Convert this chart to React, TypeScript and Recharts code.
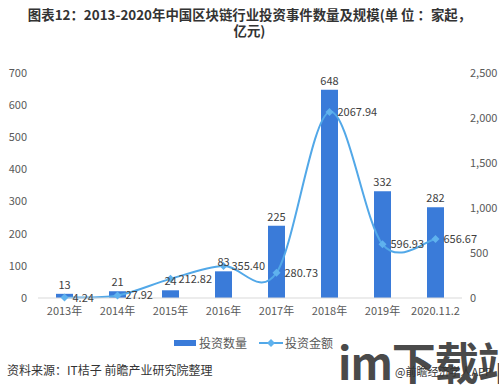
import { ComposedChart, Bar, Line, XAxis, YAxis, LabelList } from "recharts"

const years = ["2013年", "2014年", "2015年", "2016年", "2017年", "2018年", "2019年", "2020.11.2"]
const eventCounts = [13, 21, 24, 83, 225, 648, 332, 282]
const investAmounts = [4.24, 27.92, 212.82, 355.4, 280.73, 2067.94, 596.93, 656.67]
const countTicks = [0, 100, 200, 300, 400, 500, 600, 700]
const amountTicks = [0, 500, 1000, 1500, 2000, 2500]

const data = years.map((year, i) => ({
  year,
  count: eventCounts[i],
  amount: investAmounts[i],
}))

const barColor = "#3a7bd9"
const lineColor = "#52a8e8"
const font = '"Noto Sans CJK SC", "Noto Sans", sans-serif'

// Excel-like smooth line (Catmull-Rom through every point)
const smoothCurve = (context: any) => {
  let pts: [number, number][] = []
  return {
    areaStart() {},
    areaEnd() {},
    lineStart() {
      pts = []
    },
    lineEnd() {
      if (!pts.length) return
      context.moveTo(pts[0][0], pts[0][1])
      for (let i = 0; i < pts.length - 1; i++) {
        const p0 = pts[i - 1] || pts[i]
        const p1 = pts[i]
        const p2 = pts[i + 1]
        const p3 = pts[i + 2] || p2
        context.bezierCurveTo(
          p1[0] + (p2[0] - p0[0]) / 6,
          p1[1] + (p2[1] - p0[1]) / 6,
          p2[0] - (p3[0] - p1[0]) / 6,
          p2[1] - (p3[1] - p1[1]) / 6,
          p2[0],
          p2[1]
        )
      }
    },
    point(x: number, y: number) {
      pts.push([+x, +y])
    },
  }
}

const Diamond = (props: any) => {
  const { cx, cy } = props
  if (cx == null || cy == null) return null
  const r = 4
  return (
    <polygon
      points={`${cx},${cy - r} ${cx + r},${cy} ${cx},${cy + r} ${cx - r},${cy}`}
      fill="#5fb2ee"
      stroke="none"
    />
  )
}

const tickStyle = { fontSize: 11, fill: "#595959" }

export default function App() {
  return (
    <div
      style={{
        position: "absolute",
        left: 0,
        top: 0,
        width: 499,
        height: 386,
        background: "#fff",
        fontFamily: font,
        overflow: "hidden",
      }}
    >
      <div
        style={{
          position: "absolute",
          top: 6,
          left: 0,
          width: 499,
          textAlign: "center",
          fontSize: 13.4,
          fontWeight: 700,
          color: "#333",
          lineHeight: "16px",
        }}
      >
        <div>图表12：2013-2020年中国区块链行业投资事件数量及规模(单 位 ：家起，</div>
        <div>亿元)</div>
      </div>

      <div style={{ position: "absolute", left: 0, top: 0 }}>
        <ComposedChart
          width={499}
          height={386}
          data={data}
          margin={{ top: 73, right: 0, bottom: 58, left: 0 }}
          barCategoryGap={0}
        >
          <XAxis
            dataKey="year"
            tick={tickStyle}
            tickLine={false}
            tickMargin={3}
            axisLine={{ stroke: "#d9d9d9" }}
            interval={0}
            height={30}
          />
          <YAxis
            yAxisId="left"
            domain={[0, 700]}
            ticks={countTicks}
            tick={tickStyle}
            tickLine={false}
            axisLine={false}
            tickMargin={5}
            width={38}
          />
          <YAxis
            yAxisId="right"
            orientation="right"
            domain={[0, 2500]}
            ticks={amountTicks}
            tick={{ ...tickStyle, textAnchor: "start" }}
            tickFormatter={(v: number) => v.toLocaleString("en-US")}
            tickLine={false}
            axisLine={false}
            tickMargin={2}
            width={37}
          />
          <Bar yAxisId="left" dataKey="count" fill={barColor} barSize={17} isAnimationActive={false}>
            <LabelList dataKey="count" position="top" offset={5} style={{ fontSize: 11, fill: "#404040" }} />
          </Bar>
          <Line
            yAxisId="right"
            dataKey="amount"
            type={smoothCurve as any}
            stroke={lineColor}
            strokeWidth={2}
            dot={<Diamond />}
            activeDot={false}
            isAnimationActive={false}
          >
            <LabelList
              dataKey="amount"
              position="right"
              offset={8}
              formatter={(v: any) => Number(v).toFixed(2)}
              style={{ fontSize: 11, fill: "#404040" }}
            />
          </Line>
        </ComposedChart>
      </div>

      <div
        style={{
          position: "absolute",
          top: 335,
          left: 0,
          width: 499,
          display: "flex",
          justifyContent: "center",
          alignItems: "center",
          fontSize: 12,
          color: "#595959",
          lineHeight: "16px",
        }}
      >
        <div style={{ display: "flex", alignItems: "center", marginLeft: 8 }}>
          <span style={{ display: "inline-block", width: 22, height: 6, background: barColor, marginRight: 3 }} />
          投资数量
        </div>
        <div style={{ display: "flex", alignItems: "center", marginLeft: 12 }}>
          <svg width={24} height={10} style={{ marginRight: 2 }}>
            <line x1={0} y1={5} x2={24} y2={5} stroke={lineColor} strokeWidth={2} />
            <polygon points="12,1 16,5 12,9 8,5" fill="#5fb2ee" />
          </svg>
          投资金额
        </div>
      </div>

      <div style={{ position: "absolute", left: 7, top: 361, fontSize: 12, color: "#333" }}>
        资料来源：IT桔子 前瞻产业研究院整理
      </div>
      <div
        style={{
          position: "absolute",
          left: 338,
          top: 336,
          fontSize: 44,
          fontWeight: 700,
          color: "#4a4a4a",
          lineHeight: "50px",
          letterSpacing: -1,
          whiteSpace: "nowrap",
        }}
      >
        im下载站
      </div>
      <div style={{ position: "absolute", left: 395, top: 363, fontSize: 11, color: "#333", whiteSpace: "nowrap" }}>
        @前瞻经济学人APP
      </div>
    </div>
  )
}
